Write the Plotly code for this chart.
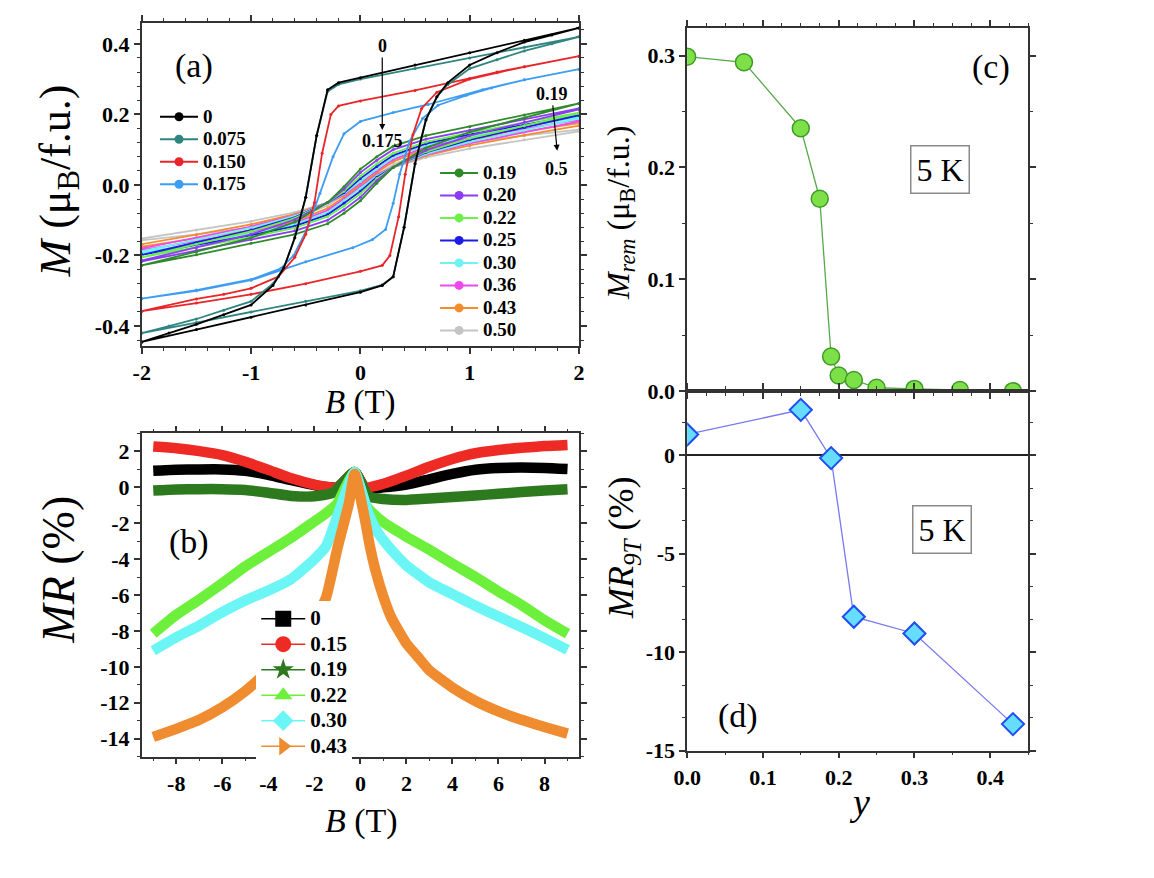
import plotly.graph_objects as go

W, H = 1154, 878

# ------------------------------------------------------------------ panel (a)
# hysteresis loops: descending branch (B from +2 to -2) and ascending branch
a_names_1 = ["0", "0.075", "0.150", "0.175"]
a_colors_1 = ["#000000", "#2f8580", "#e8262a", "#3d9df2"]

a0_B_desc = [2.0, 1.5, 1.0, 0.5, 0.0, -0.2, -0.3, -0.4, -0.5, -0.6, -0.7, -0.8, -1.0, -1.25, -1.5, -1.75, -2.0]
a0_M_desc = [0.445, 0.41, 0.375, 0.34, 0.304, 0.29, 0.27, 0.14, -0.035, -0.15, -0.235, -0.285, -0.34, -0.368, -0.395, -0.42, -0.445]
a0_B_asc = [-2.0, -1.5, -1.0, -0.5, 0.0, 0.2, 0.3, 0.4, 0.5, 0.6, 0.7, 0.8, 1.0, 1.25, 1.5, 1.75, 2.0]
a0_M_asc = [-0.445, -0.41, -0.375, -0.34, -0.304, -0.285, -0.26, -0.12, 0.06, 0.185, 0.25, 0.29, 0.34, 0.375, 0.405, 0.425, 0.445]

a075_B_desc = [2.0, 1.5, 1.0, 0.5, 0.0, -0.2, -0.3, -0.4, -0.5, -0.6, -0.7, -0.8, -1.0, -1.25, -1.5, -1.75, -2.0]
a075_M_desc = [0.42, 0.39, 0.36, 0.33, 0.30, 0.285, 0.265, 0.14, -0.035, -0.15, -0.235, -0.28, -0.33, -0.355, -0.38, -0.40, -0.42]
a075_B_asc = [-2.0, -1.5, -1.0, -0.5, 0.0, 0.2, 0.3, 0.4, 0.5, 0.6, 0.7, 0.8, 1.0, 1.25, 1.5, 1.75, 2.0]
a075_M_asc = [-0.42, -0.39, -0.36, -0.33, -0.30, -0.283, -0.26, -0.12, 0.06, 0.185, 0.25, 0.285, 0.33, 0.355, 0.38, 0.40, 0.42]

a150_B_desc = [2.0, 1.5, 1.25, 1.0, 0.5, 0.0, -0.2, -0.27, -0.35, -0.42, -0.5, -0.6, -0.75, -1.0, -1.25, -1.5, -2.0]
a150_M_desc = [0.365, 0.335, 0.32, 0.302, 0.268, 0.238, 0.224, 0.2, 0.09, -0.05, -0.14, -0.205, -0.26, -0.293, -0.31, -0.323, -0.358]
a150_B_asc = [-2.0, -1.5, -1.0, -0.5, 0.0, 0.2, 0.27, 0.35, 0.41, 0.48, 0.56, 0.7, 1.0, 1.25, 1.5, 2.0]
a150_M_asc = [-0.358, -0.335, -0.31, -0.28, -0.245, -0.228, -0.2, -0.09, 0.03, 0.142, 0.217, 0.263, 0.30, 0.318, 0.335, 0.365]

a175_B_desc = [2.0, 1.5, 1.12, 0.62, 0.3, 0.0, -0.15, -0.25, -0.37, -0.49, -0.61, -0.73, -1.0, -1.5, -2.0]
a175_M_desc = [0.328, 0.298, 0.27, 0.228, 0.205, 0.18, 0.145, 0.08, -0.024, -0.126, -0.2, -0.237, -0.268, -0.298, -0.322]
a175_B_asc = [-2.0, -1.5, -1.0, -0.5, -0.07, 0.11, 0.23, 0.30, 0.36, 0.45, 0.57, 0.71, 0.97, 1.2, 1.5, 2.0]
a175_M_asc = [-0.322, -0.30, -0.27, -0.218, -0.178, -0.155, -0.126, -0.052, 0.031, 0.124, 0.189, 0.226, 0.254, 0.275, 0.298, 0.328]

# nearly reversible curves (upper = descending branch, lower = ascending branch)
a_names_2 = ["0.19", "0.20", "0.22", "0.25", "0.30", "0.36", "0.43", "0.50"]
a_colors_2 = ["#2e8b2a", "#8b3df2", "#6ef04a", "#1c1ce6", "#6ef2f2", "#ee48ee", "#f28c2c", "#c4c4c4"]
a_grid_B = [-2.0, -1.5, -1.0, -0.6, -0.3, -0.15, 0.0, 0.15, 0.3, 0.6, 1.0, 1.5, 2.0]
a19_up = [-0.228, -0.19, -0.15, -0.105, -0.05, -0.005, 0.045, 0.08, 0.11, 0.14, 0.165, 0.198, 0.231]
a19_lo = [-0.228, -0.198, -0.165, -0.14, -0.11, -0.08, -0.045, 0.005, 0.05, 0.105, 0.15, 0.19, 0.231]
a20_up = [-0.214, -0.178, -0.14, -0.098, -0.05, -0.012, 0.035, 0.07, 0.10, 0.13, 0.155, 0.186, 0.217]
a20_lo = [-0.217, -0.186, -0.155, -0.13, -0.10, -0.07, -0.035, 0.012, 0.05, 0.098, 0.14, 0.178, 0.214]
a22_up = [-0.203, -0.168, -0.132, -0.094, -0.05, -0.018, 0.025, 0.06, 0.09, 0.122, 0.148, 0.176, 0.205]
a22_lo = [-0.205, -0.176, -0.148, -0.122, -0.09, -0.06, -0.025, 0.018, 0.05, 0.094, 0.132, 0.168, 0.203]
a25_up = [-0.197, -0.163, -0.128, -0.092, -0.05, -0.022, 0.018, 0.052, 0.084, 0.117, 0.143, 0.170, 0.198]
a25_lo = [-0.198, -0.170, -0.143, -0.117, -0.084, -0.052, -0.018, 0.022, 0.05, 0.092, 0.128, 0.163, 0.197]
a30_up = [-0.188, -0.156, -0.122, -0.088, -0.05, -0.025, 0.01, 0.045, 0.078, 0.112, 0.138, 0.165, 0.192]
a30_lo = [-0.192, -0.165, -0.138, -0.112, -0.078, -0.045, -0.01, 0.025, 0.05, 0.088, 0.122, 0.156, 0.188]
a36_up = [-0.180, -0.150, -0.118, -0.086, -0.05, -0.028, 0.005, 0.04, 0.072, 0.108, 0.133, 0.159, 0.185]
a36_lo = [-0.185, -0.159, -0.133, -0.108, -0.072, -0.04, -0.005, 0.028, 0.05, 0.086, 0.118, 0.150, 0.180]
a43_up = [-0.168, -0.141, -0.112, -0.083, -0.05, -0.03, 0.0, 0.035, 0.066, 0.103, 0.128, 0.152, 0.175]
a43_lo = [-0.175, -0.152, -0.128, -0.103, -0.066, -0.035, 0.0, 0.03, 0.05, 0.083, 0.112, 0.141, 0.168]
a50_up = [-0.152, -0.128, -0.103, -0.078, -0.05, -0.03, -0.005, 0.028, 0.058, 0.096, 0.12, 0.140, 0.157]
a50_lo = [-0.157, -0.140, -0.12, -0.096, -0.058, -0.028, 0.005, 0.03, 0.05, 0.078, 0.103, 0.128, 0.152]

a_xticks = [-2, -1, 0, 1, 2]
a_xticktext = ["-2", "-1", "0", "1", "2"]
a_yticks = [-0.4, -0.2, 0.0, 0.2, 0.4]
a_yticktext = ["-0.4", "-0.2", "0.0", "0.2", "0.4"]

# ------------------------------------------------------------------ panel (b)
b_names = ["0", "0.15", "0.19", "0.22", "0.30", "0.43"]
b_colors = ["#000000", "#ee2a24", "#2d7a1e", "#6cf03c", "#6cf5f5", "#f08c30"]
b_symbols = ["square", "circle", "star", "triangle-up", "diamond", "triangle-right"]
b0_B = [-9, -8, -7, -6, -5, -4, -3, -2, -1.5, -1, -0.25, 0.2, 1, 2, 3, 4, 5, 6, 7, 8, 9]
b0_MR = [0.92, 0.98, 1.0, 1.0, 0.92, 0.7, 0.4, 0.12, 0.02, 0.0, 0.85, -0.05, 0.0, 0.15, 0.45, 0.75, 0.98, 1.08, 1.1, 1.08, 1.02]
b15_B = [-9, -8, -7, -6, -5, -4, -3, -2, -1.5, -1, -0.25, 0.2, 1, 2, 3, 4, 5, 6, 7, 8, 9]
b15_MR = [2.27, 2.18, 2.02, 1.8, 1.42, 0.97, 0.5, 0.15, 0.03, 0.0, 0.85, 0.0, 0.2, 0.65, 1.15, 1.58, 1.9, 2.08, 2.2, 2.3, 2.36]
b19_B = [-9, -8, -7, -6, -5, -4, -3, -2, -1.2, -0.25, 0.35, 1, 2, 3, 4, 5, 6, 7, 8, 9]
b19_MR = [-0.18, -0.12, -0.1, -0.1, -0.15, -0.3, -0.48, -0.5, -0.3, 0.85, -0.5, -0.65, -0.7, -0.62, -0.54, -0.45, -0.36, -0.26, -0.17, -0.1]
b22_B = [-9, -8, -7, -6, -5, -4, -3, -2, -1.5, -1, -0.65, -0.25, 0.2, 0.5, 1, 2, 3, 4, 5, 6, 7, 8, 9]
b22_MR = [-8.15, -7.1, -6.25, -5.35, -4.4, -3.6, -2.8, -1.9, -1.45, -0.9, 0.0, 0.85, -0.91, -1.4, -1.95, -2.75, -3.48, -4.25, -5.0, -5.8, -6.55, -7.4, -8.15]
b30_B = [-9, -8, -7, -6, -5, -4, -3, -2, -1.5, -1, -0.5, -0.25, 0.35, 0.7, 1, 1.5, 2, 3, 4, 5, 6, 7, 8, 9]
b30_MR = [-9.1, -8.35, -7.7, -6.95, -6.3, -5.75, -5.1, -4.0, -3.3, -1.6, 0.2, 0.85, -1.45, -2.4, -2.95, -3.7, -4.35, -5.3, -5.95, -6.6, -7.2, -7.78, -8.4, -9.05]
b43_B = [-9, -8, -7, -6, -5, -4, -3, -2, -1.5, -1, -0.5, -0.25, 0.2, 0.4, 0.63, 1, 1.35, 2, 2.5, 3, 4, 5, 6, 7, 8, 9]
b43_MR = [-13.9, -13.45, -12.95, -12.25, -11.35, -10.2, -8.9, -7.3, -6.17, -3.4, -0.9, 0.75, -1.8, -3.2, -4.5, -6.1, -7.27, -8.7, -9.45, -10.2, -11.15, -11.9, -12.48, -12.95, -13.35, -13.72]

b_xticks = [-8, -6, -4, -2, 0, 2, 4, 6, 8]
b_xticktext = ["-8", "-6", "-4", "-2", "0", "2", "4", "6", "8"]
b_yticks = [2, 0, -2, -4, -6, -8, -10, -12, -14]
b_yticktext = ["2", "0", "-2", "-4", "-6", "-8", "-10", "-12", "-14"]

# ------------------------------------------------------------------ panels (c), (d)
c_y = [0.0, 0.075, 0.15, 0.175, 0.19, 0.20, 0.22, 0.25, 0.30, 0.36, 0.43]
c_Mrem = [0.299, 0.294, 0.235, 0.172, 0.031, 0.014, 0.010, 0.003, 0.002, 0.001, 0.0]
d_y = [0.0, 0.15, 0.19, 0.22, 0.30, 0.43]
d_MR9T = [1.05, 2.3, -0.15, -8.2, -9.05, -13.65]

cd_xticks = [0.0, 0.1, 0.2, 0.3, 0.4]
cd_xticktext = ["0.0", "0.1", "0.2", "0.3", "0.4"]
c_yticks = [0.0, 0.1, 0.2, 0.3]
c_yticktext = ["0.0", "0.1", "0.2", "0.3"]
d_yticks = [0, -5, -10, -15]
d_yticktext = ["0", "-5", "-10", "-15"]

# ------------------------------------------------------------------ figure
SERIF = "Liberation Serif"
fig = go.Figure()

loops = [
    (a0_B_desc, a0_M_desc, a0_B_asc, a0_M_asc),
    (a075_B_desc, a075_M_desc, a075_B_asc, a075_M_asc),
    (a150_B_desc, a150_M_desc, a150_B_asc, a150_M_asc),
    (a175_B_desc, a175_M_desc, a175_B_asc, a175_M_asc),
]
rev = [
    (a19_up, a19_lo), (a20_up, a20_lo), (a22_up, a22_lo), (a25_up, a25_lo),
    (a30_up, a30_lo), (a36_up, a36_lo), (a43_up, a43_lo), (a50_up, a50_lo),
]


def big(s, px):
    return "<span style='font-size:%dpx'>%s</span>" % (px, s)


for i in reversed(range(len(a_names_2))):
    up, lo = rev[i]
    xs = list(reversed(a_grid_B)) + list(a_grid_B)
    ys = list(reversed(up)) + list(lo)
    fig.add_trace(go.Scatter(x=xs, y=ys, mode="lines+markers",
                             line=dict(color=a_colors_2[i], width=1.8),
                             marker=dict(size=3, color=a_colors_2[i]),
                             showlegend=False, xaxis="x", yaxis="y", hoverinfo="skip"))
for i in reversed(range(len(a_names_1))):
    bd, md, ba, ma = loops[i]
    fig.add_trace(go.Scatter(x=list(bd) + list(ba), y=list(md) + list(ma), mode="lines+markers",
                             line=dict(color=a_colors_1[i], width=1.8),
                             marker=dict(size=3, color=a_colors_1[i]),
                             showlegend=False, xaxis="x", yaxis="y", hoverinfo="skip"))
for n, c in zip(a_names_1, a_colors_1):
    fig.add_trace(go.Scatter(x=[None], y=[None], mode="lines+markers", name=big(n, 19),
                             line=dict(color=c, width=2), marker=dict(size=9, color=c),
                             legend="legend", xaxis="x", yaxis="y"))
for n, c in zip(a_names_2, a_colors_2):
    fig.add_trace(go.Scatter(x=[None], y=[None], mode="lines+markers", name=big(n, 19),
                             line=dict(color=c, width=2), marker=dict(size=9, color=c),
                             legend="legend2", xaxis="x", yaxis="y"))

b_data = [(b0_B, b0_MR), (b15_B, b15_MR), (b19_B, b19_MR), (b22_B, b22_MR), (b30_B, b30_MR), (b43_B, b43_MR)]
for (bx, by), c in zip(b_data, b_colors):
    fig.add_trace(go.Scatter(x=bx, y=by, mode="lines", line=dict(color=c, width=10.5, shape="spline", smoothing=0.5),
                             showlegend=False, xaxis="x2", yaxis="y2", hoverinfo="skip"))
for n, c, s in zip(b_names, b_colors, b_symbols):
    fig.add_trace(go.Scatter(x=[None], y=[None], mode="lines+markers", name=big(n, 21),
                             line=dict(color=c, width=1.5), marker=dict(size=17, color=c, symbol=s),
                             legend="legend3", xaxis="x2", yaxis="y2"))

fig.add_trace(go.Scatter(x=c_y, y=c_Mrem, mode="lines+markers",
                         line=dict(color="#58a848", width=1.3),
                         marker=dict(size=17, color="#7de048", line=dict(color="#3e9a26", width=1.5)),
                         showlegend=False, xaxis="x3", yaxis="y3"))
fig.add_trace(go.Scatter(x=d_y, y=d_MR9T, mode="lines+markers",
                         line=dict(color="#7878f0", width=1.3),
                         marker=dict(size=17, symbol="diamond", color="#66dcff", line=dict(color="#1e4ef0", width=2)),
                         showlegend=False, xaxis="x4", yaxis="y4"))

TF = dict(family=SERIF, size=22, color="black", weight="bold")


def minor(dt):
    return dict(dtick=dt, tick0=0, ticks="outside", ticklen=3, tickwidth=1.2, tickcolor="#333333", showgrid=False)


def axis(**kw):
    d = dict(showline=True, linecolor="#333333", linewidth=1.5, mirror="allticks",
             ticks="outside", ticklen=6, tickwidth=1.5, tickcolor="#333333",
             showgrid=False, zeroline=False, tickfont=TF, tickmode="array")
    d.update(kw)
    return d


def px2x(p):
    return p / W


def px2y(p):
    return 1 - p / H


colL = [px2x(130), px2x(575)]
colR = [px2x(685), px2x(1032)]
LF = dict(family=SERIF, color="black", weight="bold")

fig.update_layout(
    width=W, height=H, margin=dict(l=0, r=0, t=0, b=0),
    paper_bgcolor="white", plot_bgcolor="white",
    font=dict(family=SERIF, color="black"),
    xaxis=axis(domain=colL, anchor="y", range=[-2, 2], tickvals=a_xticks, ticktext=a_xticktext, minor=minor(0.2)),
    yaxis=axis(domain=[px2y(351), px2y(23)], anchor="x", range=[-0.456, 0.46], tickvals=a_yticks,
               ticktext=a_yticktext, minor=minor(0.04)),
    xaxis2=axis(domain=colL, anchor="y2", range=[-9.5, 9.5], tickvals=b_xticks, ticktext=b_xticktext, minor=minor(1)),
    yaxis2=axis(domain=[px2y(768), px2y(440)], anchor="x2", range=[-15, 3], tickvals=b_yticks,
                ticktext=b_yticktext, minor=minor(1)),
    xaxis3=axis(domain=colR, anchor="y3", range=[0, 0.45], tickvals=cd_xticks, ticktext=cd_xticktext,
                showticklabels=False, minor=minor(0.025)),
    yaxis3=axis(domain=[px2y(397), px2y(28)], anchor="x3", range=[0, 0.325], tickvals=c_yticks,
                ticktext=c_yticktext, minor=minor(0.05)),
    xaxis4=axis(domain=colR, anchor="y4", range=[0, 0.45], tickvals=cd_xticks, ticktext=cd_xticktext, minor=minor(0.05)),
    yaxis4=axis(domain=[px2y(762), px2y(397)], anchor="x4", range=[-15, 3.25], tickvals=d_yticks,
                ticktext=d_yticktext, zeroline=True, zerolinecolor="#222222", zerolinewidth=1.5, minor=minor(5 / 3)),
    legend=dict(x=px2x(143.5), y=px2y(102), xanchor="left", yanchor="top", bgcolor="rgba(0,0,0,0)",
                font=dict(size=15, **LF), itemwidth=38, tracegroupgap=0, itemsizing="trace"),
    legend2=dict(x=px2x(428.5), y=px2y(159), xanchor="left", yanchor="top", bgcolor="rgba(0,0,0,0)",
                 font=dict(size=15, **LF), itemwidth=38, tracegroupgap=0, itemsizing="trace"),
    legend3=dict(x=px2x(246.5), y=px2y(610), xanchor="left", yanchor="top", bgcolor="white",
                 font=dict(size=17.3, **LF), itemwidth=44, tracegroupgap=0, itemsizing="trace"),
)

ann = []


def text(xp, yp, s, size, angle=0, **kw):
    d = dict(x=px2x(xp), y=px2y(yp), xref="paper", yref="paper", text=s, showarrow=False,
             font=dict(family=SERIF, size=size, color="black"), textangle=angle,
             xanchor="center", yanchor="middle")
    d.update(kw)
    ann.append(d)


# axis titles
text(353, 409, "<i>B</i> (T)", 33)
text(354, 833, "<i>B</i> (T)", 34)
text(45, 184, "<i>M</i> (μ<sub>B</sub>/f.u.)", 44, angle=-90)
text(45, 578, "<i>MR</i> (%)", 46, angle=-90)
text(617, 216, "<i>M<sub>rem</sub></i> (μ<sub>B</sub>/f.u.)", 32, angle=-90)
text(621, 556, "<i>MR<sub>9T</sub></i> (%)", 36, angle=-90)
text(860, 814, "<i>y</i>", 38)
# panel labels
text(183, 67, "(a)", 34)
text(178, 550, "(b)", 34)
text(994, 68, "(c)", 34)
text(737, 727, "(d)", 34)
# 5 K boxes
text(942, 172, "5 K", 32, bordercolor="#8a8a8a", borderwidth=1.5, borderpad=5, bgcolor="white")
text(944, 537, "5 K", 32, bordercolor="#8a8a8a", borderwidth=1.5, borderpad=5, bgcolor="white")
# arrow labels in panel (a)
bold = dict(family=SERIF, size=18, color="black", weight="bold")
ann.append(dict(x=0.2, y=0.156, ax=0.2, ay=0.394, xref="x", yref="y", axref="x", ayref="y", text="0",
                font=bold, showarrow=True, arrowhead=2, arrowsize=1, arrowwidth=1.2, arrowcolor="black"))
ann.append(dict(x=1.80, y=0.097, ax=1.75, ay=0.258, xref="x", yref="y", axref="x", ayref="y", text="0.19",
                font=bold, showarrow=True, arrowhead=2, arrowsize=1, arrowwidth=1.2, arrowcolor="black",
                startstandoff=0))
ann.append(dict(x=0.2, y=0.125, xref="x", yref="y", text="0.175", showarrow=False, font=bold))
ann.append(dict(x=1.79, y=0.044, xref="x", yref="y", text="0.5", showarrow=False, font=bold))

fig.update_layout(annotations=ann)
fig.write_html("out.html")
